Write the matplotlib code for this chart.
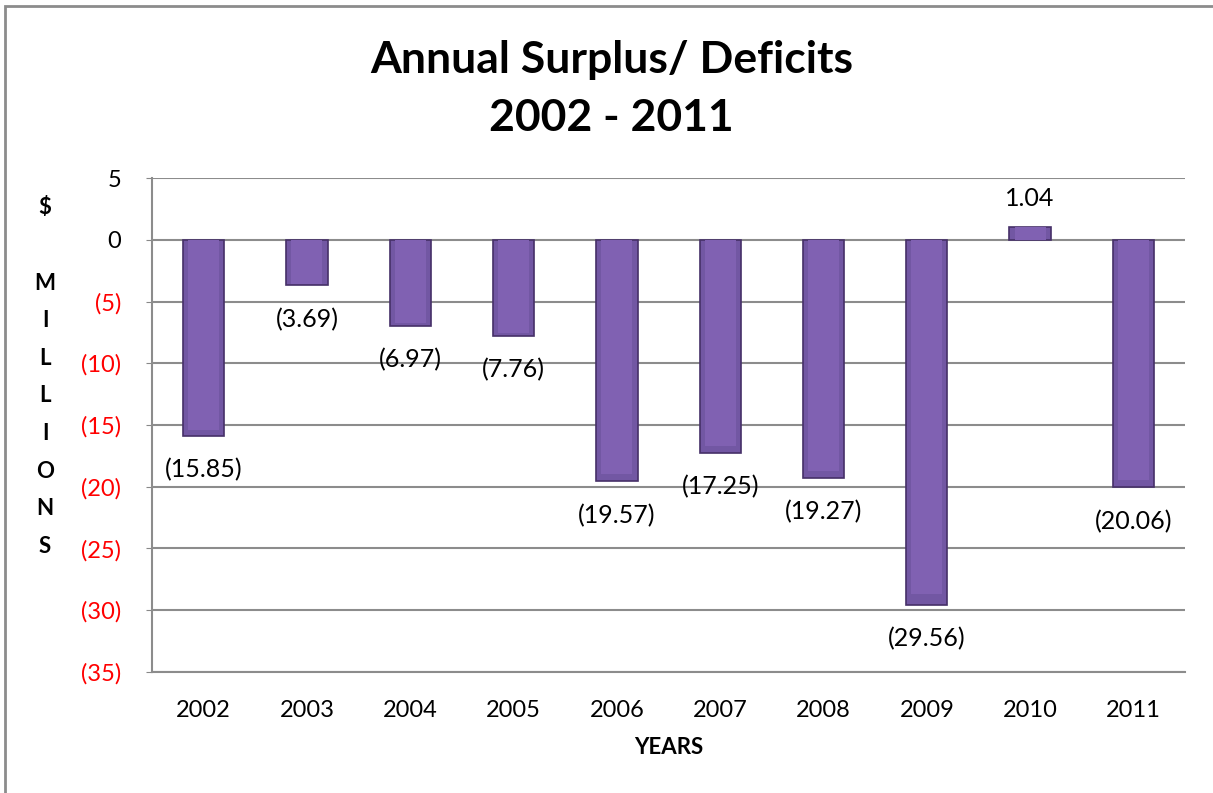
import numpy as np
import matplotlib.pyplot as plt
from matplotlib.patches import Rectangle

# values ($ millions)
years = ['2002', '2003', '2004', '2005', '2006', '2007', '2008', '2009', '2010', '2011']
surplus = [-15.85, -3.69, -6.97, -7.76, -19.57, -17.25, -19.27, -29.56, 1.04, -20.06]
yticks = [5, 0, -5, -10, -15, -20, -25, -30, -35]

plt.rcParams['font.family'] = ['Lato', 'DejaVu Sans']

fig = plt.figure(figsize=(12.13, 7.93), dpi=100)
ax = fig.add_axes([0.1253, 0.1526, 0.8517, 0.6229])

x = np.arange(len(years))
ax.bar(x, surplus, width=0.4, color='#7257a3', edgecolor='#463068', linewidth=1.2, zorder=3)
# lighter inner face to hint at the bevel
ax.bar(x, np.array(surplus) * 0.97, width=0.3, color='#8061b2', linewidth=0, zorder=4)

ax.set_xlim(-0.5, len(years) - 0.5)
ax.set_ylim(-35, 5)
ax.set_yticks(yticks)
ax.set_yticklabels([f'({abs(v)})' if v < 0 else str(v) for v in yticks], fontsize=17)
for lab, v in zip(ax.get_yticklabels(), yticks):
    lab.set_color('red' if v < 0 else 'black')
ax.set_xticks(x)
ax.set_xticklabels(years, fontsize=17)
ax.tick_params(axis='x', length=0, pad=20)
ax.tick_params(axis='y', length=4, color='#888888', pad=18)

ax.grid(axis='y', color='#8c8c8c', linewidth=1.5, zorder=0)
for s in ['top', 'right']:
    ax.spines[s].set_visible(False)
for s in ['left', 'bottom']:
    ax.spines[s].set_color('#8c8c8c')
    ax.spines[s].set_linewidth(1.5)

for xi, v in zip(x, surplus):
    if v < 0:
        ax.annotate(f'({abs(v):.2f})', (xi, v), xytext=(0, -16), textcoords='offset points',
                    ha='center', va='top', fontsize=18)
    else:
        ax.annotate(f'{v:.2f}', (xi, v), xytext=(0, 12), textcoords='offset points',
                    ha='center', va='bottom', fontsize=18)

ax.set_xlabel('YEARS', fontsize=16, fontweight='bold', labelpad=12)

fig.text(0.504, 0.924, 'Annual Surplus/ Deficits', ha='center', va='center',
         fontsize=32, fontweight='bold')
fig.text(0.504, 0.851, '2002 - 2011', ha='center', va='center',
         fontsize=32, fontweight='bold')

# stacked y label
letters = ['$', '', 'M', 'I', 'L', 'L', 'I', 'O', 'N', 'S']
for i, ch in enumerate(letters):
    fig.text(45 / 1213, 1 - (208 + i * 37.6) / 793, ch, ha='center', va='center',
             fontsize=16, fontweight='bold')

# outer chart border
fig.patches.append(Rectangle((5 / 1213, -0.05), 1.2, 1 - 6 / 793 + 0.05, transform=fig.transFigure,
                             fill=False, edgecolor='#8c8c8c', linewidth=2))

plt.savefig('out.png')
